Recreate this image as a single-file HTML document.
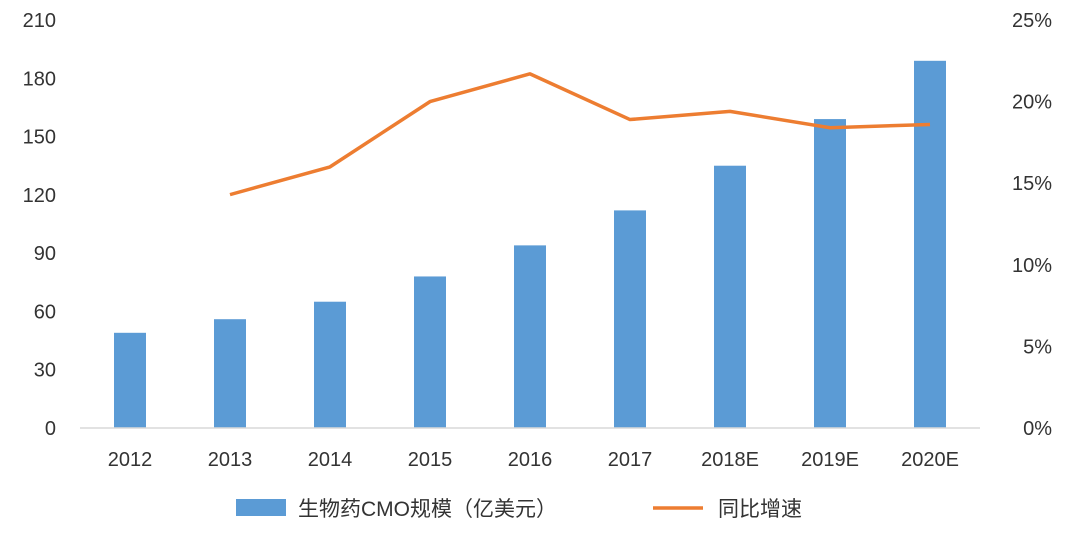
<!DOCTYPE html>
<html><head><meta charset="utf-8">
<style>
body{margin:0;background:#fff;}
svg{display:block;font-family:"Liberation Sans","Noto Sans CJK SC",sans-serif;}
</style></head>
<body>
<svg id="chart" width="1080" height="534" viewBox="0 0 1080 534">
<g id="bars"></g>
<g id="line"></g>
<g id="axes"></g>
<g>
  <rect x="236" y="499" width="50" height="17" fill="#5B9BD5"/>
  <text x="298" y="516" font-size="21" fill="#333">生物药CMO规模（亿美元）</text>
  <line x1="653" y1="508" x2="703" y2="508" stroke="#ED7D31" stroke-width="3.5"/>
  <text x="718" y="516" font-size="21" fill="#333">同比增速</text>
</g>
</svg>
<script>
const categories = ["2012","2013","2014","2015","2016","2017","2018E","2019E","2020E"];
const barValues = [49,56,65,78,94,112,135,159,189];
const growthValues = [null,14.3,16.0,20.0,21.7,18.9,19.4,18.4,18.6];
const leftTicks = [0,30,60,90,120,150,180,210];
const rightTicks = [0,5,10,15,20,25];

const NS="http://www.w3.org/2000/svg";
const x0=80, x1=980, yBase=428, yTop=20;
const step=(x1-x0)/categories.length;
const xc=i=>x0+step*(i+0.5);
const yL=v=>yBase-(v/210)*(yBase-yTop);
const yR=v=>yBase-(v/25)*(yBase-yTop);
function mk(tag,attrs,parent){const e=document.createElementNS(NS,tag);for(const k in attrs)e.setAttribute(k,attrs[k]);parent.appendChild(e);return e;}

const bars=document.getElementById('bars');
barValues.forEach((v,i)=>{
  const r=mk('rect',{x:xc(i)-16,y:yL(v),width:32,height:yBase-yL(v),fill:'#5B9BD5'},bars);
  
  
});
const lineG=document.getElementById('line');
const pts=[];
growthValues.forEach((v,i)=>{if(v!==null)pts.push(xc(i)+','+yR(v));});
const pl=mk('polyline',{points:pts.join(' '),fill:'none',stroke:'#ED7D31','stroke-width':3.5,'stroke-linejoin':'round'},lineG);



const axes=document.getElementById('axes');
const ax=mk('line',{x1:x0,y1:yBase,x2:x1,y2:yBase,stroke:'#d9d9d9','stroke-width':1.5},axes);


leftTicks.forEach(t=>{
  const e=mk('text',{x:56,y:yL(t)+7,'text-anchor':'end','font-size':20,fill:'#333'},axes);
  e.textContent=t;
  
  
});
rightTicks.forEach(t=>{
  const e=mk('text',{x:1052,y:yR(t)+7,'text-anchor':'end','font-size':20,fill:'#333'},axes);
  e.textContent=t+'%';
  
  
});
categories.forEach((c,i)=>{
  const e=mk('text',{x:xc(i),y:466,'text-anchor':'middle','font-size':20,fill:'#333'},axes);
  e.textContent=c;
  
  
});
</script>
</body></html>
